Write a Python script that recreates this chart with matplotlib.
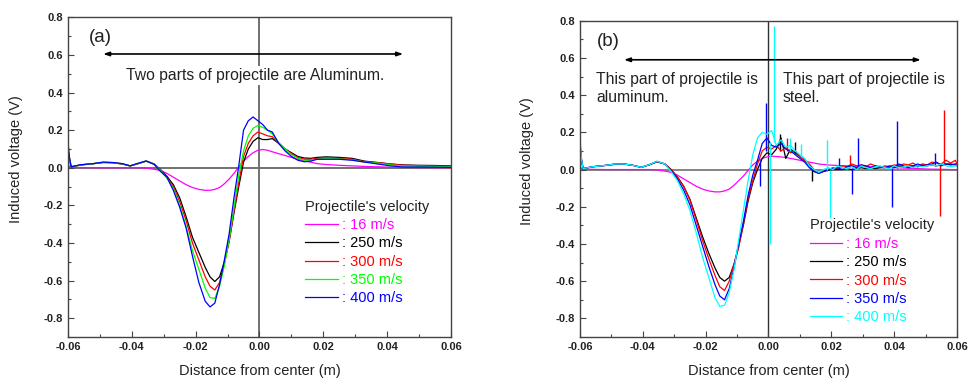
import matplotlib
matplotlib.use("Agg")
import matplotlib.pyplot as plt

plt.rcParams["font.family"] = ["Liberation Sans", "DejaVu Sans"]

# --- panel (a): both parts aluminium --------------------------------------
X_A = [-0.060, -0.0595, -0.059, -0.056, -0.052, -0.049, -0.046, -0.043, -0.0405,
       -0.038, -0.0355, -0.033, -0.031, -0.029, -0.027, -0.025, -0.023, -0.021,
       -0.019, -0.017, -0.0155, -0.014, -0.0125, -0.011, -0.0095, -0.008,
       -0.0065, -0.005, -0.0035, -0.002, -0.0005, 0.001, 0.0025, 0.004, 0.006,
       0.008, 0.010, 0.012, 0.014, 0.016, 0.018, 0.021, 0.025, 0.029, 0.033,
       0.037, 0.041, 0.045, 0.050, 0.055, 0.060]

A_16 = [0.02, 0.005, 0.002, 0.001, 0.0, 0.0, 0.0, 0.0, 0.0, 0.0, -0.002, -0.008,
        -0.015, -0.03, -0.05, -0.07, -0.09, -0.105, -0.115, -0.12, -0.12, -0.115,
        -0.105, -0.085, -0.06, -0.03, 0.005, 0.035, 0.06, 0.08, 0.093, 0.097,
        0.093, 0.085, 0.075, 0.065, 0.055, 0.045, 0.036, 0.03, 0.022, 0.017,
        0.013, 0.01, 0.007, 0.005, 0.003, 0.002, 0.001, 0.0, 0.0]
A_250 = [0.10, 0.05, 0.005, 0.015, 0.022, 0.028, 0.027, 0.02, 0.01, 0.022, 0.035,
         0.02, -0.01, -0.045, -0.09, -0.16, -0.26, -0.37, -0.45, -0.53, -0.58,
         -0.605, -0.58, -0.50, -0.39, -0.24, -0.10, 0.03, 0.10, 0.14, 0.16, 0.15,
         0.15, 0.155, 0.13, 0.10, 0.08, 0.06, 0.052, 0.05, 0.055, 0.058, 0.055,
         0.05, 0.035, 0.028, 0.02, 0.015, 0.013, 0.012, 0.01]
A_300 = [0.09, 0.04, 0.005, 0.015, 0.022, 0.028, 0.027, 0.02, 0.01, 0.022, 0.036,
         0.02, -0.012, -0.05, -0.10, -0.18, -0.28, -0.40, -0.49, -0.58, -0.63,
         -0.65, -0.61, -0.51, -0.39, -0.23, -0.08, 0.06, 0.13, 0.17, 0.19, 0.18,
         0.17, 0.165, 0.13, 0.10, 0.075, 0.055, 0.045, 0.045, 0.05, 0.052, 0.05,
         0.045, 0.032, 0.027, 0.02, 0.013, 0.011, 0.01, 0.008]
A_350 = [0.10, 0.04, 0.005, 0.015, 0.022, 0.029, 0.027, 0.021, 0.01, 0.023, 0.036,
         0.019, -0.015, -0.055, -0.11, -0.20, -0.31, -0.44, -0.54, -0.64, -0.69,
         -0.695, -0.63, -0.52, -0.38, -0.21, -0.04, 0.09, 0.17, 0.21, 0.225, 0.215,
         0.20, 0.18, 0.135, 0.10, 0.07, 0.05, 0.04, 0.04, 0.045, 0.048, 0.047,
         0.042, 0.03, 0.025, 0.015, 0.01, 0.008, 0.006, 0.005]
A_400 = [0.137, 0.05, 0.005, 0.016, 0.022, 0.03, 0.028, 0.022, 0.01, 0.024, 0.036,
         0.018, -0.02, -0.05, -0.12, -0.21, -0.32, -0.47, -0.61, -0.71, -0.74,
         -0.72, -0.62, -0.49, -0.35, -0.16, 0.01, 0.20, 0.25, 0.27, 0.25, 0.23,
         0.20, 0.19, 0.13, 0.09, 0.06, 0.04, 0.032, 0.035, 0.045, 0.045, 0.045,
         0.04, 0.03, 0.02, 0.01, 0.004, 0.004, 0.003, 0.002]

# --- panel (b): front aluminium, rear steel --------------------------------
X_B = [-0.060, -0.0595, -0.059, -0.056, -0.052, -0.049, -0.046, -0.043, -0.0405,
       -0.038, -0.0355, -0.033, -0.031, -0.029, -0.027, -0.025, -0.023, -0.021,
       -0.019, -0.017, -0.0155, -0.014, -0.0125, -0.011, -0.0095, -0.008,
       -0.0065, -0.005, -0.0035, -0.002, -0.0005, 0.001, 0.0025, 0.004, 0.0055,
       0.007, 0.0085, 0.010, 0.0115, 0.013, 0.0145, 0.016, 0.0175, 0.019, 0.0205,
       0.022, 0.0235, 0.025, 0.0265, 0.028, 0.0295, 0.031, 0.0325, 0.034, 0.0355,
       0.037, 0.0385, 0.040, 0.0415, 0.043, 0.0445, 0.046, 0.0475, 0.049, 0.0505,
       0.052, 0.0535, 0.055, 0.0565, 0.058, 0.0595, 0.060]

B_16 = [0.02, 0.005, 0.002, 0.001, 0.0, 0.0, 0.0, 0.0, 0.0, 0.0, -0.002, -0.008,
        -0.015, -0.03, -0.05, -0.07, -0.09, -0.105, -0.115, -0.12, -0.12, -0.115,
        -0.105, -0.085, -0.06, -0.035, -0.005, 0.025, 0.045, 0.06, 0.068, 0.072,
        0.07, 0.068, 0.065, 0.06, 0.055, 0.05, 0.045, 0.04, 0.035, 0.03, 0.027,
        0.025, 0.023, 0.022, 0.021, 0.02, 0.019, 0.018, 0.017, 0.016, 0.015, 0.014,
        0.013, 0.012, 0.011, 0.01, 0.009, 0.008, 0.007, 0.006, 0.005, 0.004, 0.003,
        0.002, 0.002, 0.001, 0.001, 0.0, 0.0, 0.0]
B_250 = [0.12, 0.05, 0.005, 0.015, 0.022, 0.028, 0.03, 0.022, 0.012, 0.025, 0.042,
         0.03, 0.0, -0.04, -0.09, -0.16, -0.26, -0.36, -0.45, -0.53, -0.58, -0.60,
         -0.58, -0.51, -0.41, -0.30, -0.17, -0.07, 0.0, 0.06, 0.09, 0.08, 0.11,
         0.17, 0.06, 0.11, 0.09, 0.07, 0.05, 0.02, -0.01, -0.02, -0.01, -0.005, 0.0,
         0.0, 0.0, 0.005, 0.0, 0.005, 0.01, 0.005, 0.01, 0.005, 0.01, 0.01, 0.015,
         0.01, 0.02, 0.015, 0.02, 0.02, 0.015, 0.025, 0.02, 0.025, 0.02, 0.025,
         0.03, 0.025, 0.03, 0.03]
B_300 = [0.13, 0.05, 0.005, 0.015, 0.022, 0.028, 0.03, 0.022, 0.012, 0.025, 0.042,
         0.03, 0.0, -0.04, -0.09, -0.165, -0.27, -0.38, -0.48, -0.57, -0.63, -0.65,
         -0.60, -0.51, -0.42, -0.29, -0.16, -0.06, 0.03, 0.10, 0.12, 0.11, 0.13,
         0.10, 0.12, 0.09, 0.10, 0.07, 0.05, 0.03, 0.0, -0.015, -0.01, 0.0, 0.01,
         0.005, 0.02, 0.015, 0.03, 0.02, 0.025, 0.015, 0.03, 0.02, 0.01, 0.02,
         0.015, 0.025, 0.02, 0.03, 0.025, 0.035, 0.02, 0.03, 0.025, 0.04, 0.035,
         0.03, 0.05, 0.035, 0.05, 0.03]
B_350 = [0.15, 0.05, 0.005, 0.015, 0.022, 0.03, 0.03, 0.022, 0.012, 0.026, 0.044,
         0.03, -0.005, -0.05, -0.11, -0.19, -0.30, -0.41, -0.52, -0.62, -0.68,
         -0.70, -0.64, -0.53, -0.40, -0.28, -0.14, -0.03, 0.05, 0.14, 0.17, 0.13,
         0.12, 0.14, 0.11, 0.10, 0.08, 0.06, 0.04, 0.01, -0.01, -0.02, -0.01, 0.0,
         0.005, 0.01, 0.0, 0.015, 0.02, 0.01, 0.025, 0.02, 0.01, 0.02, 0.015, 0.01,
         0.02, 0.015, 0.03, 0.02, 0.01, 0.02, 0.03, 0.02, 0.025, 0.03, 0.04, 0.02,
         0.03, 0.03, 0.025, 0.02]
B_400 = [0.17, 0.05, 0.005, 0.015, 0.022, 0.03, 0.03, 0.022, 0.012, 0.026, 0.045,
         0.03, -0.01, -0.06, -0.13, -0.22, -0.34, -0.47, -0.58, -0.69, -0.735,
         -0.73, -0.66, -0.54, -0.38, -0.22, -0.06, 0.08, 0.17, 0.20, 0.19, 0.21,
         0.13, 0.16, 0.12, 0.13, 0.10, 0.08, 0.06, 0.02, 0.0, -0.015, 0.0, 0.01,
         0.0, 0.02, 0.01, 0.005, 0.015, 0.0, 0.02, 0.01, 0.005, 0.015, 0.02, 0.01,
         0.005, 0.02, 0.01, 0.015, 0.02, 0.01, 0.02, 0.015, 0.02, 0.025, 0.02,
         0.03, 0.02, 0.015, 0.02, 0.02]

# single-sample noise spikes in (b): x, from, to
SPK_250 = [(0.0138, 0.0, -0.06), (0.0037, 0.10, 0.19), (0.0085, 0.09, 0.15)]
SPK_300 = [(0.0546, 0.03, -0.25), (0.0560, 0.03, 0.32), (0.0260, 0.02, 0.08),
           (0.0060, 0.10, 0.17)]
SPK_350 = [(-0.0009, 0.10, 0.36), (-0.0027, 0.05, -0.09), (0.0267, 0.01, -0.13),
           (0.0286, 0.01, 0.17), (0.0394, 0.01, -0.20), (0.0408, 0.01, 0.26),
           (0.0530, 0.02, 0.09), (0.0225, 0.01, 0.06)]
SPK_400 = [(0.0018, 0.15, 0.77), (0.0005, 0.15, -0.40), (0.0196, 0.0, -0.26),
           (0.0185, 0.0, 0.16), (0.0069, 0.1, 0.17), (0.0105, 0.07, 0.14)]

LABELS = [": 16 m/s", ": 250 m/s", ": 300 m/s", ": 350 m/s", ": 400 m/s"]
COLORS_A = ["#FF00FF", "#000000", "#FF0000", "#00FF00", "#0000FF"]
COLORS_B = ["#FF00FF", "#000000", "#FF0000", "#0000FF", "#00FFFF"]

INK = "#222222"
TICK_FS = 8
LAB_FS = 10.5
TXT_FS = 11.3


def style_axis(ax):
    ax.set_xlim(-0.06, 0.06)
    ax.set_ylim(-0.9, 0.8)
    ax.set_xticks([-0.06, -0.04, -0.02, 0.0, 0.02, 0.04, 0.06])
    ax.set_xticks([-0.05, -0.03, -0.01, 0.01, 0.03, 0.05], minor=True)
    ax.set_yticks([-0.8, -0.6, -0.4, -0.2, 0.0, 0.2, 0.4, 0.6, 0.8])
    ax.set_yticks([-0.9, -0.7, -0.5, -0.3, -0.1, 0.1, 0.3, 0.5, 0.7], minor=True)
    ax.xaxis.set_major_formatter(plt.FuncFormatter(lambda v, _: f"{v:.2f}"))
    ax.yaxis.set_major_formatter(plt.FuncFormatter(lambda v, _: f"{v:.1f}"))
    ax.tick_params(which="both", direction="in", top=False, right=False,
                   color="#444444", width=0.8)
    ax.tick_params(which="major", length=4, labelsize=TICK_FS, labelcolor=INK, pad=3.5)
    ax.tick_params(which="minor", length=2.5)
    for lab in ax.get_xticklabels() + ax.get_yticklabels():
        lab.set_fontweight("bold")
    for sp in ax.spines.values():
        sp.set_color("#444444")
        sp.set_linewidth(1.0)
    ax.set_xlabel("Distance from center (m)", fontsize=LAB_FS, color=INK, labelpad=9)
    ax.set_ylabel("Induced voltage (V)", fontsize=LAB_FS, color=INK)


def add_legend(ax, handles, anchor):
    leg = ax.legend(handles, LABELS, loc="upper left", bbox_to_anchor=anchor,
                    frameon=False, fontsize=LAB_FS, title="Projectile's velocity",
                    title_fontsize=LAB_FS, alignment="left", labelcolor="linecolor",
                    handlelength=2.2, handletextpad=0.3, labelspacing=0.3,
                    borderpad=0, borderaxespad=0)
    leg.get_title().set_color(INK)


fig = plt.figure(figsize=(9.71, 3.83), dpi=100)
ax_a = fig.add_axes([0.0700, 0.1201, 0.3945, 0.8347])
ax_b = fig.add_axes([0.5973, 0.1201, 0.3883, 0.8258])

# (a)
ax_a.axhline(0, color="#707070", lw=1.4, zorder=1)
ax_a.axvline(0, color="#707070", lw=1.4, zorder=1)
hs = []
for ys, c in zip([A_16, A_250, A_300, A_350, A_400], COLORS_A):
    (h,) = ax_a.plot(X_A, ys, color=c, lw=0.9, zorder=2)
    hs.append(h)
style_axis(ax_a)
ax_a.yaxis.set_label_coords(-0.1175, 0.556)
ax_a.text(-0.0535, 0.69, "(a)", fontsize=13.5, color=INK, va="center", ha="left")
ax_a.annotate("", xy=(-0.049, 0.605), xytext=(0.045, 0.605),
              arrowprops=dict(arrowstyle="<|-|>,head_length=0.35,head_width=0.12",
                              color="black", lw=1.2, shrinkA=0, shrinkB=0))
ax_a.text(-0.0015, 0.49, "Two parts of projectile are Aluminum.", fontsize=TXT_FS,
          color=INK, ha="center", va="center", zorder=3,
          bbox=dict(facecolor="white", edgecolor="none", pad=1.5))
add_legend(ax_a, hs, (0.62, 0.43))

# (b)
ax_b.axhline(0, color="#707070", lw=1.2, zorder=1)
ax_b.axvline(0, color="#303030", lw=1.0, zorder=1)
hs = []
for ys, spk, c in zip([B_16, B_250, B_300, B_350, B_400],
                      [[], SPK_250, SPK_300, SPK_350, SPK_400], COLORS_B):
    (h,) = ax_b.plot(X_B, ys, color=c, lw=0.9, zorder=2)
    for sx, y0, y1 in spk:
        ax_b.vlines(sx, y0, y1, color=c, lw=1.0, zorder=2)
    hs.append(h)
style_axis(ax_b)
ax_b.yaxis.set_label_coords(-0.122, 0.556)
ax_b.text(-0.0545, 0.69, "(b)", fontsize=13.5, color=INK, va="center", ha="left")
ax_b.annotate("", xy=(-0.046, 0.59), xytext=(0.0485, 0.59),
              arrowprops=dict(arrowstyle="<|-|>,head_length=0.35,head_width=0.12",
                              color="black", lw=1.2, shrinkA=0, shrinkB=0))
ax_b.text(-0.0548, 0.435, "This part of projectile is\naluminum.", fontsize=TXT_FS,
          color=INK, ha="left", va="center", linespacing=1.3)
ax_b.text(0.0045, 0.435, "This part of projectile is\nsteel.", fontsize=TXT_FS,
          color=INK, ha="left", va="center", linespacing=1.3)
add_legend(ax_b, hs, (0.61, 0.375))

fig.savefig("out.png", dpi=100)
